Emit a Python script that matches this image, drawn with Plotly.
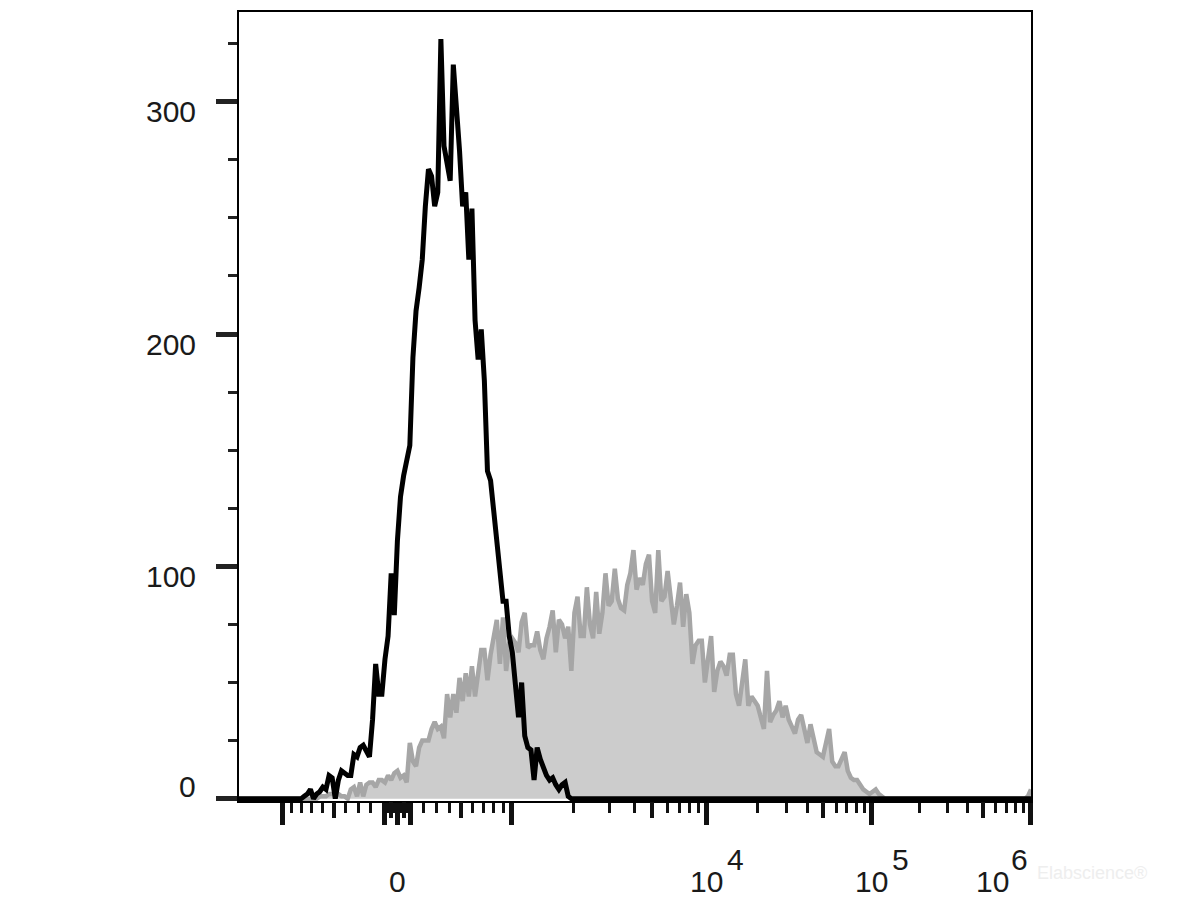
import math
import plotly.graph_objects as go

# ---------------- data (counts per display bin, 256 bins on a logicle axis) ----------------
n_bins = 256
bins = list(range(n_bins))

black_counts = (
    [0] * 20
    + [0, 1, 2, 4, 0, 2, 3, 5, 4, 10, 9, 0, 8, 12, 11, 10, 10, 19, 18, 22,
       23, 20, 18, 34, 58, 45, 45, 60, 70, 97, 79, 111, 130, 139, 145, 152, 190, 210, 220, 232,
       255, 271, 268, 255, 261, 327, 281, 272, 266, 316, 299, 279, 255, 261, 232, 254, 206, 189, 202, 180,
       141, 137, 124, 109, 96, 85, 85, 70, 63, 51, 35, 50, 27, 22, 21, 8, 22, 17, 13, 10,
       8, 9, 6, 4, 6, 7, 1]
    + [0] * 149
)

gray_counts = (
    [0] * 24
    + [0, 0, 1, 1, 1, 2, 2, 2, 2, 1, 1, 0, 4, 5, 1, 7, 1, 6, 7, 7,
       5, 8, 8, 7, 10, 8, 11, 12, 9, 10, 7, 24, 16, 14, 22, 25, 25, 25, 30, 33,
       30, 31, 26, 45, 35, 45, 37, 52, 42, 54, 44, 57, 44, 55, 64, 64, 51, 62, 70, 77,
       58, 78, 55, 67, 69, 67, 63, 76, 80, 65, 66, 66, 72, 64, 60, 69, 74, 81, 63, 77,
       75, 69, 74, 55, 80, 87, 70, 70, 91, 75, 69, 89, 71, 80, 97, 83, 85, 99, 86, 82,
       81, 92, 97, 107, 90, 95, 92, 101, 105, 85, 80, 107, 85, 87, 98, 85, 75, 83, 93, 74,
       88, 80, 58, 66, 68, 68, 50, 60, 70, 46, 55, 59, 57, 53, 62, 62, 45, 40, 52, 60,
       40, 44, 42, 40, 35, 30, 55, 33, 36, 38, 42, 35, 40, 34, 31, 28, 34, 36, 30, 24,
       32, 25, 20, 19, 18, 24, 30, 16, 14, 14, 17, 20, 12, 9, 8, 8, 6, 4, 3, 2,
       3, 4, 2, 1, 0]
    + [0] * 45
    + [1, 4]
)

# axis tick values (data units of the logicle scale) and labels
x_major_vals = [-1000, -100, 0, 100, 1000, 1e4, 1e5, 1e6]
x_medium_vals = [-500, -50, 50, 500, 5000, 5e4, 5e5]
x_minor_vals = ([-900, -800, -700, -600, -400, -300, -200]
                + [-90, -80, -70, -60, -40, -30, -20, -10]
                + [10, 20, 30, 40, 60, 70, 80, 90]
                + [200, 300, 400, 600, 700, 800, 900]
                + [2000, 3000, 4000, 6000, 7000, 8000, 9000]
                + [2e4, 3e4, 4e4, 6e4, 7e4, 8e4, 9e4]
                + [2e5, 3e5, 4e5, 6e5, 7e5, 8e5, 9e5])
x_label_vals = [0, 1e4, 1e5, 1e6]
x_label_base = ["0", "10", "10", "10"]
x_label_exp = ["", "4", "5", "6"]

y_major_vals = [0, 100, 200, 300]
y_major_text = ["0", "100", "200", "300"]
y_minor_vals = [25, 50, 75, 125, 150, 175, 225, 250, 275, 325]


# ---------------- logicle scale (T=1e6, M=5 decades, W=1) ----------------
def logicle_bin(v, T=1e6, M=5.0, W=1.0):
    ln10 = math.log(10)
    w = W * ln10
    m = M * ln10
    lo, hi = 1.000001, 100.0
    for _ in range(200):
        mid = (lo + hi) / 2
        if 2 * mid * math.log(mid) / (mid + 1) < w:
            lo = mid
        else:
            hi = mid
    p = (lo + hi) / 2
    k = T * math.exp(-(m - w))

    def S(x):
        if x >= w:
            return k * (math.exp(x - w) - p * p * math.exp(-(x - w) / p) + p * p - 1)
        return -S(2 * w - x)

    a, b = -m, 2 * m
    for _ in range(200):
        c = (a + b) / 2
        if S(c) < v:
            a = c
        else:
            b = c
    return (a + b) / 2 / m * (n_bins - 1)


x_major_pos = [logicle_bin(v) for v in x_major_vals]
x_medium_pos = [logicle_bin(v) for v in x_medium_vals]
x_minor_pos = [logicle_bin(v) for v in x_minor_vals]
x_label_pos = [logicle_bin(v) for v in x_label_vals]

FONT = "Liberation Sans, Arial, Helvetica, sans-serif"
TXT = "#1a1a1a"
FS = 30

fig = go.Figure()
fig.add_trace(go.Scatter(
    x=bins, y=gray_counts, mode="lines",
    line=dict(color="#a6a6a6", width=4.5),
    fill="tozeroy", fillcolor="#cccccc",
    hoverinfo="skip", showlegend=False,
))
fig.add_trace(go.Scatter(
    x=bins, y=black_counts, mode="lines",
    line=dict(color="#000000", width=5),
    hoverinfo="skip", showlegend=False,
))
# carrier trace for the overlaid medium-tick axis
fig.add_trace(go.Scatter(
    x=[0, n_bins - 1], y=[None, None], xaxis="x2", mode="lines",
    hoverinfo="skip", showlegend=False,
))

annotations = []
for v, t in zip(y_major_vals, y_major_text):
    annotations.append(dict(
        xref="paper", yref="y", x=-0.0514, y=v, text=t, showarrow=False,
        xanchor="right", yanchor="middle", yshift=(-10 if v else 12),
        font=dict(family=FONT, size=FS, color=TXT),
    ))

base_shift = [0, 0, 0, -38]
exp_shift = [0, 29, 29, -11]
for pos, base, ex, bs, es in zip(x_label_pos, x_label_base, x_label_exp, base_shift, exp_shift):
    annotations.append(dict(
        xref="x", yref="paper", x=pos, y=-0.1024, text=base, showarrow=False,
        xanchor="center", yanchor="middle", xshift=bs,
        font=dict(family=FONT, size=FS, color=TXT),
    ))
    if ex:
        annotations.append(dict(
            xref="x", yref="paper", x=pos, y=-0.0746, text=ex, showarrow=False,
            xanchor="center", yanchor="middle", xshift=es,
            font=dict(family=FONT, size=FS, color=TXT),
        ))

# faint watermark, kept clear of the axis labels
annotations.append(dict(
    xref="paper", yref="paper", x=1.0, y=-0.091, text="Elabscience®",
    showarrow=False, xanchor="left", yanchor="middle", xshift=4,
    font=dict(family=FONT, size=18, color="#eeeeee"),
))

fig.update_layout(
    width=1200, height=900,
    margin=dict(l=239, r=169, t=10, b=99),
    paper_bgcolor="white", plot_bgcolor="white",
    showlegend=False,
    xaxis=dict(
        range=[0, n_bins - 1], showgrid=False, zeroline=False,
        showline=True, mirror=True, linecolor="#000000", linewidth=1.5,
        tickmode="array", tickvals=x_major_pos, ticks="outside",
        ticklen=22, tickwidth=5, tickcolor="#111111", showticklabels=False,
        minor=dict(tickmode="array", tickvals=x_minor_pos, ticks="outside",
                   ticklen=10, tickwidth=2.5, tickcolor="#111111", showgrid=False),
    ),
    xaxis2=dict(
        overlaying="x", anchor="y", side="bottom", range=[0, n_bins - 1],
        showgrid=False, zeroline=False, showline=False,
        tickmode="array", tickvals=x_medium_pos, ticks="outside",
        ticklen=16, tickwidth=3.5, tickcolor="#111111", showticklabels=False,
    ),
    yaxis=dict(
        range=[-1, 338.63], showgrid=False, zeroline=False,
        showline=True, mirror=True, linecolor="#000000", linewidth=1.5,
        tickmode="array", tickvals=y_major_vals, ticks="outside",
        ticklen=21, tickwidth=5, tickcolor="#222222", showticklabels=False,
        minor=dict(tickmode="array", tickvals=y_minor_vals, ticks="outside",
                   ticklen=9, tickwidth=2.5, tickcolor="#222222", showgrid=False),
    ),
    annotations=annotations,
)

fig.write_html("out.html")
